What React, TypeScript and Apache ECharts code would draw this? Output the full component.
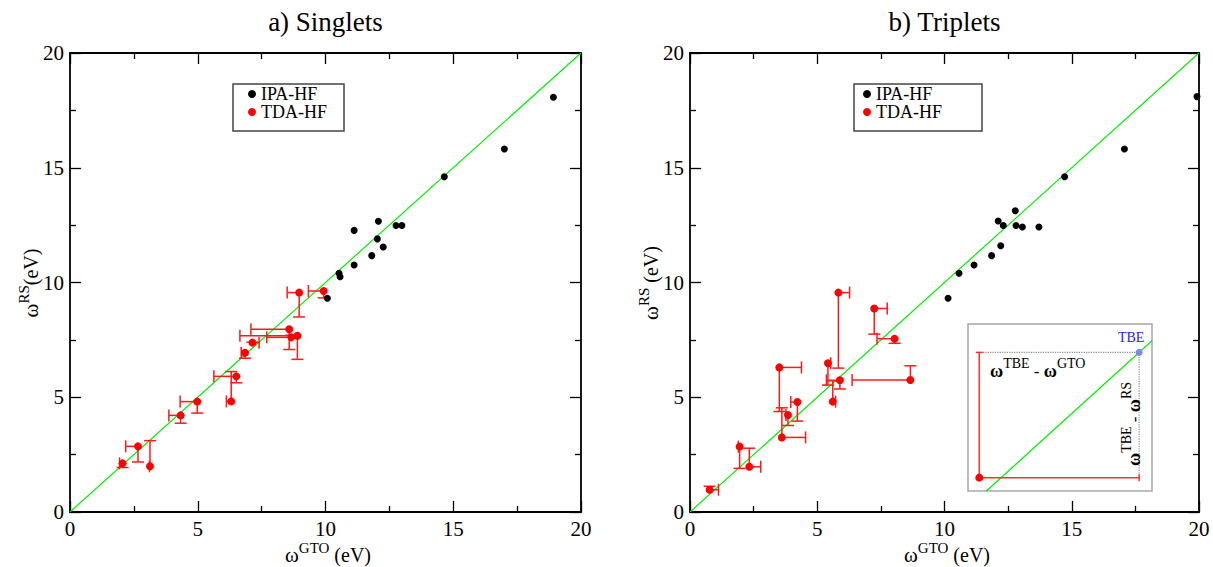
import React, { useEffect, useRef } from 'react';
import * as echarts from 'echarts';

// ---------- data ----------
const AXIS_MIN = 0;
const AXIS_MAX = 20;
const AXIS_STEP = 5;

// Singlets, IPA-HF: [omega GTO, omega RS]
const singletIPA_GTO = [18.92, 17.0, 14.65, 12.07, 12.76, 12.99, 11.12, 12.03, 12.26, 11.81, 11.12, 10.53, 10.57, 10.07];
const singletIPA_RS = [18.07, 15.82, 14.61, 12.67, 12.48, 12.48, 12.27, 11.9, 11.55, 11.17, 10.76, 10.4, 10.25, 9.31];

// Singlets, TDA-HF: omega GTO, omega RS, omega TBE
const singletTDA_GTO = [2.06, 2.66, 3.13, 4.33, 4.98, 6.31, 6.51, 6.85, 7.14, 8.58, 8.66, 8.9, 8.97, 9.93];
const singletTDA_RS = [2.12, 2.86, 1.99, 4.21, 4.81, 4.82, 5.91, 6.94, 7.38, 7.96, 7.61, 7.68, 9.56, 9.63];
const singletTDA_TBE = [1.94, 2.18, 3.11, 3.87, 4.31, 6.12, 5.63, 6.7, 7.4, 7.08, 7.7, 6.65, 8.5, 9.33];

// Triplets, IPA-HF
const tripletIPA_GTO = [19.92, 17.07, 14.72, 12.78, 12.11, 12.31, 12.81, 13.06, 13.71, 12.21, 11.85, 11.16, 10.57, 10.14];
const tripletIPA_RS = [18.1, 15.82, 14.61, 13.13, 12.68, 12.48, 12.48, 12.42, 12.42, 11.6, 11.17, 10.76, 10.4, 9.31];

// Triplets, TDA-HF
const tripletTDA_GTO = [0.77, 1.95, 2.33, 3.51, 3.61, 3.85, 4.22, 5.42, 5.61, 5.83, 5.89, 7.24, 8.04, 8.66];
const tripletTDA_RS = [0.97, 2.85, 1.97, 6.3, 3.25, 4.23, 4.79, 6.48, 4.81, 9.56, 5.74, 8.87, 7.55, 5.75];
const tripletTDA_TBE = [1.12, 1.9, 2.78, 4.38, 4.54, 3.77, 3.96, 5.53, 5.72, 6.27, 5.36, 7.75, 7.35, 6.37];

// Diagonal
const diagonal = [[0, 0], [20, 20]];

// Inset schematic (its own unit axes)
const INSET_X_MIN = 0, INSET_X_MAX = 10, INSET_Y_MIN = 1, INSET_Y_MAX = 11;
const insetPoint = [0.61, 1.8];
const insetTBE = 9.3;
const insetDiagonal = [[1, 1], [10, 10]];

const SERIES_NAMES = ['IPA-HF', 'TDA-HF'];
const TITLES = ['a) Singlets', 'b) Triplets'];

// ---------- helpers ----------
const FONT = 'Liberation Serif';

const zip2 = (a: number[], b: number[]) => a.map((v, i) => [v, b[i]]);
const zip3 = (a: number[], b: number[], c: number[]) => a.map((v, i) => [v, b[i], c[i]]);

const makeErrorBars = (cap: number, color: string, lw: number) => (_params: any, api: any) => {
  const gto = api.value(0);
  const rs = api.value(1);
  const tbe = api.value(2);
  const p = api.coord([gto, rs]);
  const h = api.coord([tbe, rs]);
  const v = api.coord([gto, tbe]);
  const style = { stroke: color, lineWidth: lw };
  return {
    type: 'group',
    children: [
      { type: 'line', shape: { x1: p[0], y1: p[1], x2: h[0], y2: h[1] }, style },
      { type: 'line', shape: { x1: h[0], y1: h[1] - cap, x2: h[0], y2: h[1] + cap }, style },
      { type: 'line', shape: { x1: p[0], y1: p[1], x2: v[0], y2: v[1] }, style },
      { type: 'line', shape: { x1: v[0] - cap, y1: v[1], x2: v[0] + cap, y2: v[1] }, style },
    ],
  };
};

const axis = (gridIndex: number, position: string, showLabel: boolean) => ({
  type: 'value',
  gridIndex,
  position,
  min: AXIS_MIN,
  max: AXIS_MAX,
  interval: AXIS_STEP,
  axisLine: { show: true, onZero: false, lineStyle: { color: '#000', width: 1.8 } },
  axisTick: { show: true, inside: true, length: 11, lineStyle: { color: '#000', width: 1.3 } },
  minorTick: { show: true, splitNumber: 2, length: 6, lineStyle: { color: '#000', width: 1.3 } },
  splitLine: { show: false },
  minorSplitLine: { show: false },
  axisLabel: {
    show: showLabel,
    fontFamily: FONT,
    fontSize: 21,
    color: '#000',
    margin: 6,
  },
});

const hiddenAxis = (min: number, max: number) => ({
  type: 'value',
  gridIndex: 2,
  min,
  max,
  show: false,
  splitLine: { show: false },
});

const richLabel = (base: number, sup: number, shiftH: number, bold = false) => ({
  w: { fontSize: base + 1, fontFamily: FONT, fill: '#000', lineHeight: 30, fontWeight: bold ? 'bold' : 'normal' },
  s: { fontSize: sup, fontFamily: FONT, fill: '#000', lineHeight: shiftH, verticalAlign: 'top' },
  u: { fontSize: base, fontFamily: FONT, fill: '#000', lineHeight: 30 },
});

const legend = (left: number, padding: number[]) => ({
  left,
  top: 84,
  orient: 'vertical',
  data: SERIES_NAMES,
  icon: 'circle',
  itemWidth: 8,
  itemHeight: 8,
  itemGap: 0,
  selectedMode: false,
  borderColor: '#444',
  borderWidth: 1.5,
  borderRadius: 0,
  backgroundColor: '#fff',
  padding,
  textStyle: { fontFamily: FONT, fontSize: 18, color: '#000' },
});

export default function App() {
  const ref = useRef<HTMLDivElement>(null);

  useEffect(() => {
    if (!ref.current) return;
    const chart = echarts.init(ref.current, undefined, { renderer: 'svg' });

    const errorBars = makeErrorBars(6, '#ff1a1a', 1.5);
    const insetBars = makeErrorBars(3.5, '#ff3030', 1.5);

    const option: any = {
      animation: false,
      backgroundColor: '#fff',
      textStyle: { fontFamily: FONT },
      grid: [
        { left: 70, top: 53, width: 511, height: 459, outerBoundsMode: 'none' },
        { left: 690, top: 53, width: 509, height: 459, outerBoundsMode: 'none' },
        {
          left: 968, top: 324, width: 184, height: 167, show: true,
          borderColor: '#a8a8a8', borderWidth: 1.5, backgroundColor: '#fff', outerBoundsMode: 'none',
        },
      ],
      xAxis: [
        axis(0, 'bottom', true),
        axis(0, 'top', false),
        axis(1, 'bottom', true),
        axis(1, 'top', false),
        hiddenAxis(INSET_X_MIN, INSET_X_MAX),
      ],
      yAxis: [
        axis(0, 'left', true),
        axis(0, 'right', false),
        axis(1, 'left', true),
        axis(1, 'right', false),
        hiddenAxis(INSET_Y_MIN, INSET_Y_MAX),
      ],
      legend: [legend(233, [1, 17, 10, 15]), legend(854, [1, 40, 10, 9])],
      graphic: [
        {
          type: 'text', x: 325.5, y: 22,
          style: { text: TITLES[0], fontFamily: FONT, fontSize: 27, fill: '#000', align: 'center', verticalAlign: 'middle' },
        },
        {
          type: 'text', x: 944.5, y: 22,
          style: { text: TITLES[1], fontFamily: FONT, fontSize: 27, fill: '#000', align: 'center', verticalAlign: 'middle' },
        },
        {
          type: 'text', x: 328, y: 555,
          style: { text: '{w|ω}{s|GTO}{u| (eV)}', rich: richLabel(20, 15, 13), align: 'center', verticalAlign: 'middle' },
        },
        {
          type: 'text', x: 947, y: 555,
          style: { text: '{w|ω}{s|GTO}{u| (eV)}', rich: richLabel(20, 15, 13), align: 'center', verticalAlign: 'middle' },
        },
        {
          type: 'text', x: 31, y: 283, rotation: Math.PI / 2,
          style: { text: '{w|ω}{s|RS}{u|(eV)}', rich: richLabel(20, 15, 12), align: 'center', verticalAlign: 'middle' },
        },
        {
          type: 'text', x: 651, y: 283, rotation: Math.PI / 2,
          style: { text: '{w|ω}{s|RS}{u| (eV)}', rich: richLabel(20, 15, 12), align: 'center', verticalAlign: 'middle' },
        },
        {
          type: 'text', x: 990, y: 371, z: 20,
          style: { text: '{w|ω}{s|TBE}{u| - }{w|ω}{s|GTO}', rich: richLabel(17, 14, 6, true), align: 'left', verticalAlign: 'middle' },
        },
        {
          type: 'text', x: 1134, y: 424, rotation: Math.PI / 2, z: 20,
          style: { text: '{w|ω}{s|TBE}{u| - }{w|ω}{s|RS}', rich: richLabel(17, 14, 6, true), align: 'center', verticalAlign: 'middle' },
        },
      ],
      series: [
        // ----- singlets -----
        {
          type: 'line', xAxisIndex: 0, yAxisIndex: 0, data: diagonal, symbol: 'none', silent: true,
          lineStyle: { color: '#00ee00', width: 1.2 }, z: 1,
        },
        {
          type: 'custom', name: SERIES_NAMES[1], xAxisIndex: 0, yAxisIndex: 0,
          data: zip3(singletTDA_GTO, singletTDA_RS, singletTDA_TBE), encode: { x: 0, y: 1 },
          renderItem: errorBars, silent: true, z: 2, itemStyle: { color: '#ff0000' },
        },
        {
          type: 'scatter', name: SERIES_NAMES[0], xAxisIndex: 0, yAxisIndex: 0,
          data: zip2(singletIPA_GTO, singletIPA_RS), symbol: 'circle', symbolSize: 7,
          itemStyle: { color: '#000', opacity: 1 }, z: 3,
        },
        {
          type: 'scatter', name: SERIES_NAMES[1], xAxisIndex: 0, yAxisIndex: 0,
          data: zip2(singletTDA_GTO, singletTDA_RS), symbol: 'circle', symbolSize: 8,
          itemStyle: { color: '#ff0000', opacity: 1 }, z: 4,
        },
        // ----- triplets -----
        {
          type: 'line', xAxisIndex: 2, yAxisIndex: 2, data: diagonal, symbol: 'none', silent: true,
          lineStyle: { color: '#00ee00', width: 1.2 }, z: 1,
        },
        {
          type: 'custom', name: SERIES_NAMES[1], xAxisIndex: 2, yAxisIndex: 2,
          data: zip3(tripletTDA_GTO, tripletTDA_RS, tripletTDA_TBE), encode: { x: 0, y: 1 },
          renderItem: errorBars, silent: true, z: 2, itemStyle: { color: '#ff0000' },
        },
        {
          type: 'scatter', name: SERIES_NAMES[0], xAxisIndex: 2, yAxisIndex: 2,
          data: zip2(tripletIPA_GTO, tripletIPA_RS), symbol: 'circle', symbolSize: 7,
          itemStyle: { color: '#000', opacity: 1 }, z: 3,
        },
        {
          type: 'scatter', name: SERIES_NAMES[1], xAxisIndex: 2, yAxisIndex: 2,
          data: zip2(tripletTDA_GTO, tripletTDA_RS), symbol: 'circle', symbolSize: 8,
          itemStyle: { color: '#ff0000', opacity: 1 }, z: 4,
        },
        // ----- inset schematic -----
        {
          type: 'line', xAxisIndex: 4, yAxisIndex: 4, data: insetDiagonal, symbol: 'none', silent: true,
          lineStyle: { color: '#00ee00', width: 1.2 }, z: 6,
        },
        {
          type: 'line', xAxisIndex: 4, yAxisIndex: 4, symbol: 'none', silent: true,
          data: [[insetPoint[0] + 0.2, insetTBE], [insetTBE, insetTBE], [insetTBE, insetPoint[1]]],
          lineStyle: { color: '#8a8a8a', width: 1.2, type: 'dotted' }, z: 6,
        },
        {
          type: 'custom', xAxisIndex: 4, yAxisIndex: 4,
          data: [[insetPoint[0], insetPoint[1], insetTBE]], encode: { x: 0, y: 1 },
          renderItem: insetBars, silent: true, z: 7,
        },
        {
          type: 'scatter', xAxisIndex: 4, yAxisIndex: 4, data: [insetPoint], symbol: 'circle', symbolSize: 8,
          itemStyle: { color: '#ff0000', opacity: 1 }, silent: true, z: 8,
        },
        {
          type: 'scatter', xAxisIndex: 4, yAxisIndex: 4, data: [[insetTBE, insetTBE]], symbol: 'circle', symbolSize: 7,
          itemStyle: { color: '#7f88ee', opacity: 1 }, silent: true, z: 8,
          label: {
            show: true, formatter: 'TBE', position: 'top', offset: [-8, 1],
            fontFamily: FONT, fontSize: 14, color: '#2222ff',
          },
        },
      ],
    };

    chart.setOption(option);
    return () => chart.dispose();
  }, []);

  return (
    <div
      ref={ref}
      style={{ position: 'fixed', left: 0, top: 0, width: 1213, height: 567, background: '#fff' }}
    />
  );
}
